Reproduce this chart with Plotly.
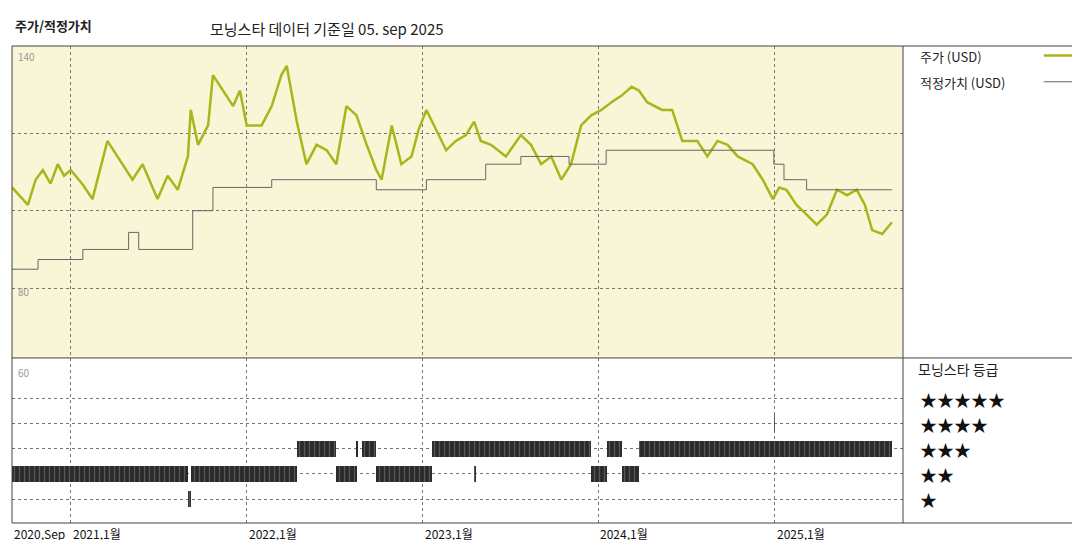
import pandas as pd
import plotly.graph_objects as go

# price (USD)
price_dates = ['2020-09-01', '2020-09-15', '2020-10-04', '2020-10-20', '2020-11-04', '2020-11-20', '2020-12-05',
               '2020-12-18', '2021-01-01', '2021-01-26', '2021-02-15', '2021-03-18', '2021-04-08', '2021-05-09',
               '2021-05-30', '2021-06-30', '2021-07-21', '2021-08-11', '2021-09-01', '2021-09-07', '2021-09-22',
               '2021-10-13', '2021-10-23', '2021-11-13', '2021-12-04', '2021-12-18', '2022-01-01', '2022-02-01',
               '2022-02-22', '2022-03-14', '2022-03-25', '2022-04-15', '2022-05-05', '2022-05-26', '2022-06-16',
               '2022-07-06', '2022-07-27', '2022-08-17', '2022-09-07', '2022-09-27', '2022-10-08', '2022-10-29',
               '2022-11-18', '2022-12-09', '2022-12-24', '2023-01-09', '2023-01-29', '2023-02-19', '2023-03-11',
               '2023-04-01', '2023-04-18', '2023-05-02', '2023-05-23', '2023-06-23', '2023-07-24', '2023-08-14',
               '2023-09-04', '2023-09-25', '2023-10-16', '2023-11-05', '2023-11-26', '2023-12-17', '2024-01-07',
               '2024-01-28', '2024-02-18', '2024-03-10', '2024-03-25', '2024-04-11', '2024-05-12', '2024-06-02',
               '2024-06-23', '2024-07-24', '2024-08-14', '2024-09-04', '2024-09-25', '2024-10-16', '2024-11-16',
               '2024-12-07', '2024-12-28', '2025-01-10', '2025-01-25', '2025-02-15', '2025-03-08', '2025-03-29',
               '2025-04-19', '2025-05-10', '2025-05-31', '2025-06-20', '2025-07-07', '2025-07-22', '2025-08-12',
               '2025-09-01']
price = [106, 104, 101.5, 108, 110.5, 107, 112, 109, 110.5, 106.7, 103, 118, 114, 108, 112, 103, 109, 105.4,
         114, 126, 117, 122, 135, 131, 127, 131, 122, 122, 127, 135, 137.4, 123, 112, 117, 115.6, 112, 127, 124.6,
         117, 110.5, 108, 122, 112, 114, 121, 126, 121, 115.6, 118, 119.5, 123, 118, 117, 114, 119.5, 117, 112,
         114, 108, 112, 122, 124.6, 126, 128, 129.7, 132, 131, 128, 126, 126, 118, 118, 114, 118, 117, 114, 112,
         108, 103, 106, 105.4, 101.5, 99, 96.4, 99, 105.4, 104, 105.4, 101.5, 95, 94, 97]

# fair value (USD), step changes
fair_dates = ['2020-09-01', '2020-10-25', '2021-01-26', '2021-05-01', '2021-05-22', '2021-09-11', '2021-10-23',
              '2022-02-22', '2022-09-27', '2023-01-09', '2023-05-12', '2023-07-24', '2023-11-01', '2024-01-17',
              '2024-12-30', '2025-01-20', '2025-03-08', '2025-09-01']
fair = [84.9, 87.4, 90, 94.4, 90, 100, 106, 108, 105.4, 108, 112, 114, 112, 115.6, 112, 108, 105.4, 105.4]

# morningstar rating periods
rating_start = ['2020-09-01', '2021-09-01', '2021-09-08', '2022-04-15', '2022-07-06', '2022-08-17', '2022-08-28',
                '2022-09-27', '2023-01-20', '2023-04-18', '2023-04-20', '2023-12-17', '2024-01-18', '2024-02-18',
                '2024-03-25', '2024-12-31']
rating_end = ['2021-09-01', '2021-09-08', '2022-04-15', '2022-07-06', '2022-08-17', '2022-08-20', '2022-09-27',
              '2023-01-20', '2023-12-17', '2023-04-19', '2023-04-21', '2024-01-18', '2024-02-18', '2024-03-25',
              '2025-09-01', '2025-01-01']
rating = [2, 1, 2, 3, 2, 3, 3, 2, 3, 2, 2, 2, 3, 2, 3, 4]

tick_dates = ['2020-09-01', '2021-01-01', '2022-01-01', '2023-01-01', '2024-01-01', '2025-01-01']
tick_text = ['2020,Sep', '2021,1월', '2022,1월', '2023,1월', '2024,1월', '2025,1월']

FONT = 'Noto Sans CJK KR'
OLIVE = '#aab51c'

fig = go.Figure()
fig.add_trace(go.Scatter(x=price_dates, y=price, mode='lines', line=dict(color=OLIVE, width=2.5),
                         xaxis='x', yaxis='y', showlegend=False))
fig.add_trace(go.Scatter(x=fair_dates, y=fair, mode='lines', line=dict(color='#666666', width=1, shape='hv'),
                         xaxis='x', yaxis='y', showlegend=False))

starts = pd.to_datetime(rating_start)
ends = pd.to_datetime(rating_end)
durations = [(e - s).total_seconds() * 1000 for s, e in zip(starts, ends)]
fig.add_trace(go.Bar(y=rating, x=durations, base=[s.strftime('%Y-%m-%d') for s in starts], orientation='h',
                     width=0.65, marker=dict(color='#2a2a2a', line_width=0,
                                             pattern=dict(shape='|', fgcolor='#888888', size=5, solidity=0.25)),
                     xaxis='x2', yaxis='y2', showlegend=False))

grid = dict(showgrid=True, gridcolor='#777777', griddash='dot', gridwidth=1)
fig.update_layout(
    width=1080, height=540, margin=dict(l=4, r=185, t=38, b=25, autoexpand=False),
    paper_bgcolor='white', plot_bgcolor='white', font=dict(family=FONT, color='#222222'),
    xaxis=dict(type='date', range=['2020-09-01', '2025-09-24'], tickvals=tick_dates, showticklabels=False,
               anchor='y', **grid),
    xaxis2=dict(type='date', matches='x', tickvals=tick_dates, showticklabels=False, anchor='y2', **grid),
    yaxis=dict(domain=[0.346, 1], range=[62, 142.5], tickvals=[80, 100, 120], showticklabels=False, **grid),
    yaxis2=dict(domain=[0, 0.346], range=[0.05, 6.6], tickvals=[1, 2, 3, 4, 5], showticklabels=False, **grid),
    bargap=0,
)

shapes = [
    dict(type='rect', xref='x domain', yref='y domain', x0=0, x1=1, y0=0, y1=1, fillcolor='#f9f5d7',
         line_width=0, layer='below'),
    dict(type='rect', xref='paper', yref='paper', x0=0, x1=1 + 184 / 891, y0=0, y1=1,
         line=dict(color='#444444', width=1)),
    dict(type='line', xref='paper', yref='paper', x0=0, x1=1 + 184 / 891, y0=0.346, y1=0.346,
         line=dict(color='#444444', width=1)),
    dict(type='line', xref='paper', yref='paper', x0=1, x1=1, y0=0, y1=1, line=dict(color='#444444', width=1)),
    dict(type='line', xref='paper', yref='paper', x0=1.158, x1=1.2, y0=0.98, y1=0.98,
         line=dict(color=OLIVE, width=2.5)),
    dict(type='line', xref='paper', yref='paper', x0=1.158, x1=1.2, y0=0.925, y1=0.925,
         line=dict(color='#666666', width=1)),
]

annotations = [
    dict(text='<b>주가/적정가치</b>', x=5, y=18, font=dict(size=13)),
    dict(text='모닝스타 데이터 기준일 05. sep 2025', x=200, y=20, font=dict(size=15)),
    dict(text='주가 (USD)', x=910, y=49, font=dict(size=13)),
    dict(text='적정가치 (USD)', x=910, y=74, font=dict(size=13)),
    dict(text='모닝스타 등급', x=908, y=361, font=dict(size=14)),
    dict(text='140', x=8, y=49, font=dict(size=10, color='#999999')),
    dict(text='80', x=8, y=283, font=dict(size=10, color='#999999')),
    dict(text='60', x=8, y=364, font=dict(size=10, color='#999999')),
]
for i in range(5):
    annotations.append(dict(text='★' * (5 - i), x=910, y=391 + i * 25.2, font=dict(size=17, color='#111111')))
for d, t in zip(tick_dates, tick_text):
    annotations.append(dict(text=t, x=d, xref='x2', yref='paper', y=0, xanchor='left', yanchor='top',
                            showarrow=False, font=dict(size=12, color='#111111')))

for a in annotations:
    if 'xref' not in a:
        a.update(xref='paper', yref='paper', xanchor='left', yanchor='middle', showarrow=False)
        a['x'] = (a['x'] - 4) / 891
        a['y'] = 1 - (a['y'] - 38) / 477

fig.update_layout(shapes=shapes, annotations=annotations)
fig.write_html("out.html")
